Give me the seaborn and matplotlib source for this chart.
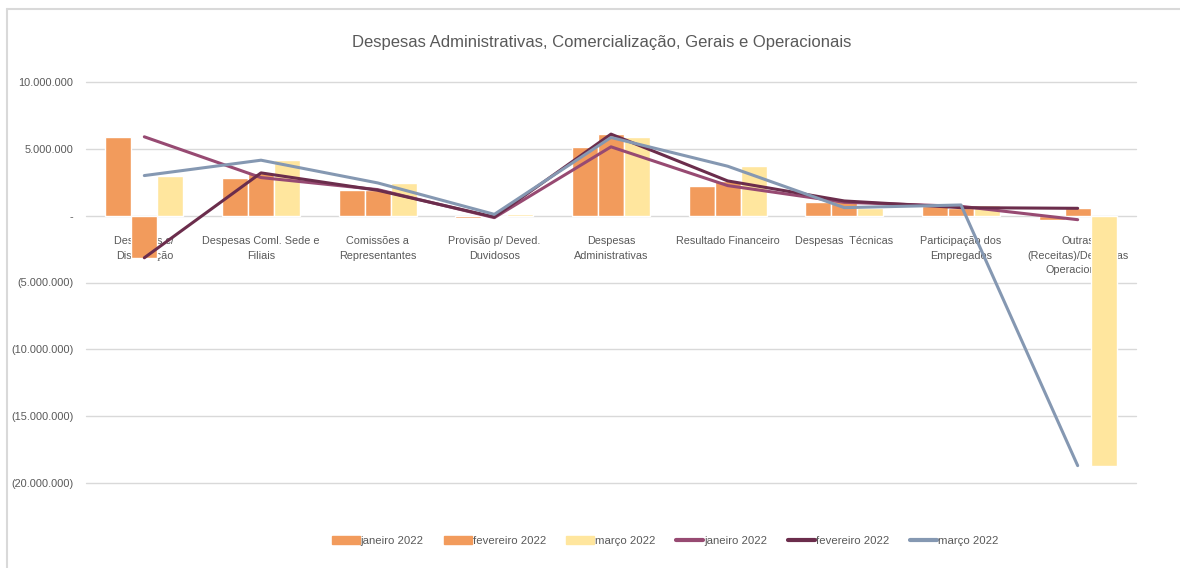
import numpy as np
import pandas as pd
import seaborn as sns
import matplotlib.pyplot as plt
from matplotlib.lines import Line2D
from matplotlib.patches import Patch
from matplotlib.ticker import FuncFormatter

categorias = [
    "Despesas c/\nDistribuição",
    "Despesas Coml. Sede e\nFiliais",
    "Comissões a\nRepresentantes",
    "Provisão p/ Deved.\nDuvidosos",
    "Despesas\nAdministrativas",
    "Resultado Financeiro",
    "Despesas  Técnicas",
    "Participação dos\nEmpregados",
    "Outras\n(Receitas)/Despesas\nOperacionais",
]
meses = ["janeiro 2022", "fevereiro 2022", "março 2022"]
janeiro = [5900000, 2850000, 1950000, -150000, 5150000, 2250000, 1000000, 700000, -300000]
fevereiro = [-3150000, 3200000, 1900000, -100000, 6100000, 2600000, 1100000, 600000, 550000]
marco = [3000000, 4150000, 2450000, 100000, 5850000, 3700000, 600000, 800000, -18700000]

cor_barra = {"janeiro 2022": "#F29B5C", "fevereiro 2022": "#F29B5C", "março 2022": "#FFE69E"}
cor_linha = {"janeiro 2022": "#974A72", "fevereiro 2022": "#6B2D4C", "março 2022": "#8598B2"}

df = pd.DataFrame({
    "pos": np.tile(np.arange(len(categorias)), 3),
    "mes": np.repeat(meses, len(categorias)),
    "valor": janeiro + fevereiro + marco,
})

sns.set_style("white")
plt.rcParams["font.family"] = ["Liberation Sans", "DejaVu Sans"]
cinza = "#595959"

fig = plt.figure(figsize=(11.8, 5.68), dpi=100)
ax = fig.add_axes([86 / 1180, 1 - 483 / 568, 1050 / 1180, 401 / 568])

sns.barplot(data=df, x="pos", y="valor", hue="mes", hue_order=meses,
            palette=cor_barra, width=0.67, ax=ax, legend=False,
            saturation=1, zorder=2)
for mes in meses:
    sns.lineplot(data=df[df["mes"] == mes], x="pos", y="valor", color=cor_linha[mes],
                 lw=2.2, ax=ax, legend=False, zorder=3)

ax.set_xlim(-0.5, len(categorias) - 0.5)
ax.set_ylim(-20000000, 10000000)
ax.set_yticks(np.arange(-20000000, 10000001, 5000000))


def fmt(v, _):
    if v == 0:
        return "-"
    s = f"{abs(v):,.0f}".replace(",", ".")
    return f"({s})" if v < 0 else s


ax.yaxis.set_major_formatter(FuncFormatter(fmt))
ax.grid(axis="y", color="#D9D9D9", lw=1, zorder=0)
ax.set_axisbelow(True)
for gl in ax.get_ygridlines():
    gl.set_clip_on(False)
for sp in ax.spines.values():
    sp.set_visible(False)
ax.tick_params(axis="y", length=0, pad=9, labelsize=7.9, labelcolor=cinza)
ax.set_xticks([])
ax.set_xlabel("")
ax.set_ylabel("")

for i, cat in enumerate(categorias):
    ax.annotate(cat, xy=(i, 0), xytext=(0, -14.5), textcoords="offset points",
                ha="center", va="top", fontsize=7.8, color=cinza, linespacing=1.6,
                zorder=1)

fig.text(0.51, 1 - 42 / 568, "Despesas Administrativas, Comercialização, Gerais e Operacionais",
         ha="center", va="center", fontsize=12, color=cinza)

handles = [Patch(color=cor_barra[m], label=m) for m in meses]
handles += [Line2D([], [], color=cor_linha[m], lw=3, label=m) for m in meses]
fig.legend(handles=handles, loc="center", bbox_to_anchor=(0.564, 1 - 541 / 568), ncol=6,
           frameon=False, fontsize=8.2, handlelength=2.4, handleheight=0.75,
           handletextpad=0.1, columnspacing=1.8, labelcolor=cinza)

# moldura do gráfico (topo e esquerda)
fig.add_artist(Line2D([7 / 1180, 7 / 1180], [0, 1 - 9 / 568], color="#D9D9D9", lw=1.5))
fig.add_artist(Line2D([7 / 1180, 1], [1 - 9 / 568, 1 - 9 / 568], color="#D9D9D9", lw=1.5))

fig.savefig("out.png", dpi=100)
